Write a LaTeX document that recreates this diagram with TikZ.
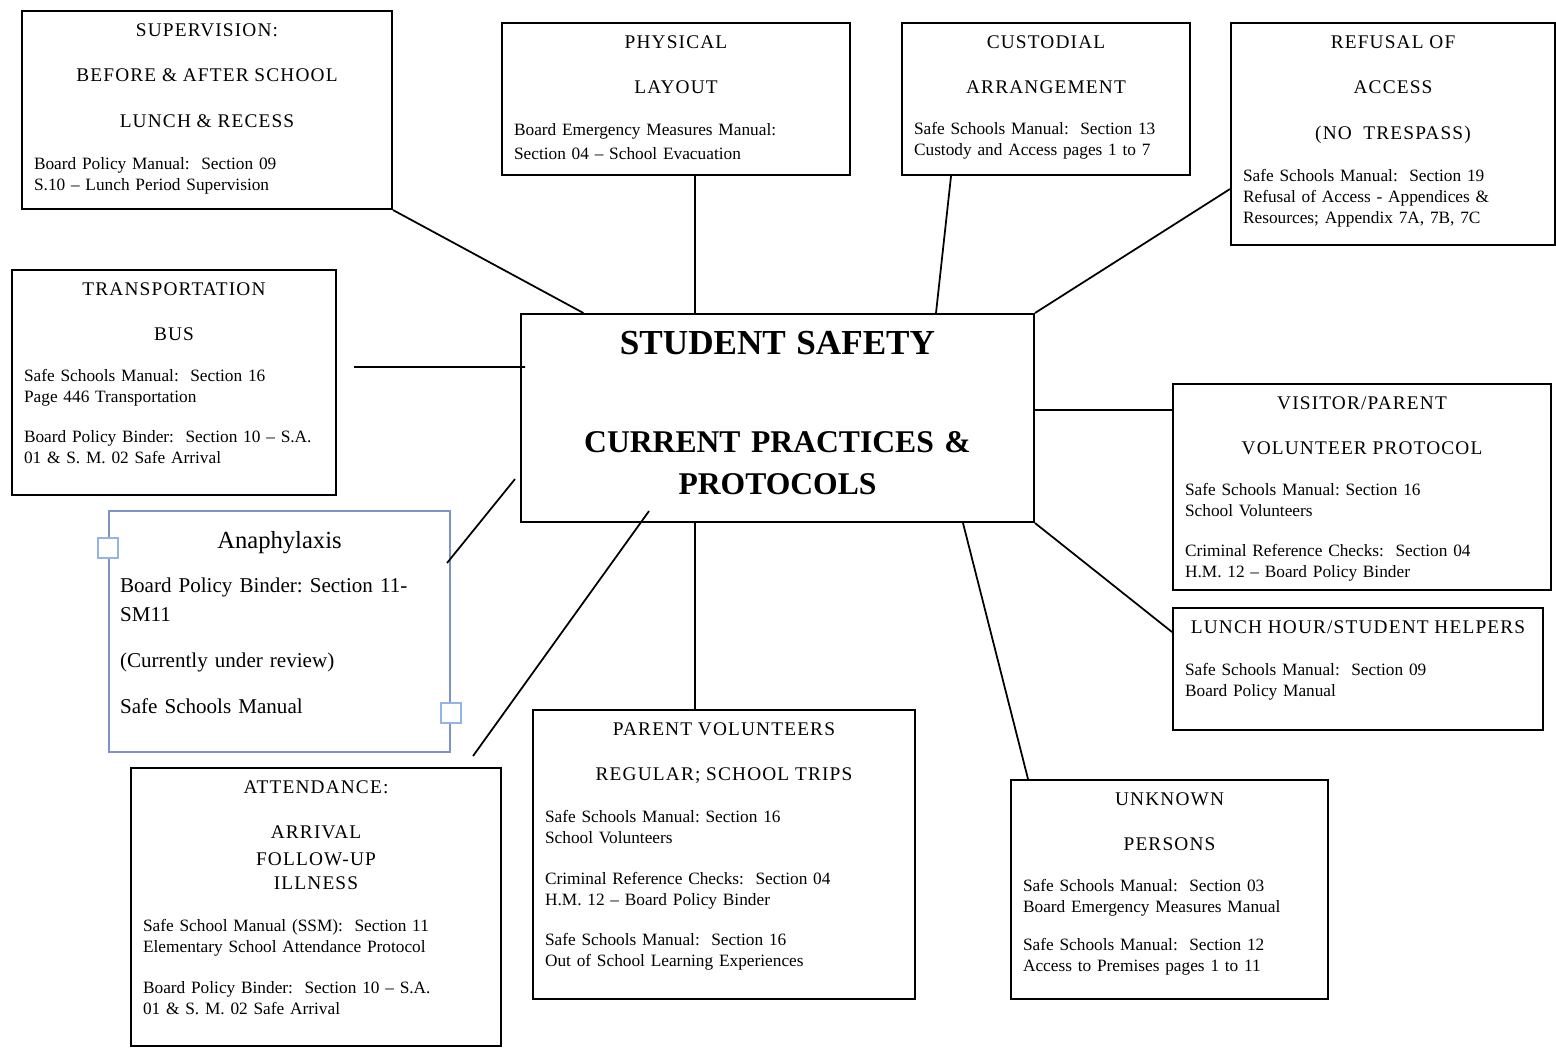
\documentclass[tikz,border=0pt]{standalone}
\usepackage{fontspec}
\setmainfont{Liberation Serif}
\newfontfamily\capsfont[LetterSpace=6]{Liberation Serif}
\definecolor{anaphblue}{HTML}{7C95C6}
\definecolor{handleblue}{HTML}{93B4E8}
\frenchspacing
% centred heading line inside a card
\newcommand\hd[1]{\makebox[\linewidth]{\capsfont\fontsize{11}{12}\selectfont #1}}

\begin{document}
\begin{tikzpicture}[x=0.02cm, y=-0.02cm,
  card/.style={draw, line width=1.2pt, anchor=north west, inner xsep=0.24cm, inner ysep=0pt,
    text height=0.5cm, align=left, font=\fontsize{9.85}{12}\selectfont},
  link/.style={line width=1pt},
  handle/.style={draw=handleblue, line width=1.3pt, fill=white, minimum size=0.4cm, inner sep=0pt}]
\useasboundingbox (0,0) rectangle (1556,1051);

% outer cards
\node[card, text width=6.92cm, text depth=3.46cm] (sup) at (21,10) {%
\hd{SUPERVISION:}\\[14pt]
\hd{BEFORE \& AFTER SCHOOL}\\[14pt]
\hd{LUNCH \& RECESS}\\[12pt]
Board Policy Manual:\ \ Section 09\\
S.10 – Lunch Period Supervision};
\node[card, text width=6.48cm, text depth=2.54cm] (phys) at (501,22) {%
\hd{PHYSICAL}\\[14pt]
\hd{LAYOUT}\\[12pt]
Board Emergency Measures Manual:\\[1.6pt]
Section 04 – School Evacuation};
\node[card, text width=5.28cm, text depth=2.54cm] (cust) at (901,22) {%
\hd{CUSTODIAL}\\[14pt]
\hd{ARRANGEMENT}\\[11pt]
Safe Schools Manual:\ \ Section 13\\
Custody and Access pages 1 to 7};
\node[card, text width=6cm, text depth=3.94cm] (refusal) at (1230,22) {%
\hd{REFUSAL OF}\\[14pt]
\hd{ACCESS}\\[14pt]
\hd{(NO\ \ TRESPASS)}\\[12pt]
Safe Schools Manual:\ \ Section 19\\
Refusal of Access - Appendices \&\\
Resources; Appendix 7A, 7B, 7C};
\node[card, text width=6cm, text depth=4cm] (trans) at (11,269) {%
\hd{TRANSPORTATION}\\[14pt]
\hd{BUS}\\[11pt]
Safe Schools Manual:\ \ Section 16\\
Page 446 Transportation\\[11pt]
Board Policy Binder:\ \ Section 10 – S.A.\\
01 \& S. M. 02 Safe Arrival};
\node[card, draw=anaphblue, inner xsep=0.22cm, text width=6.38cm, text height=0.74cm, text depth=4.08cm,
  font=\fontsize{12}{16.4}\selectfont] (anaph) at (108,510) {%
\makebox[\linewidth]{\fontsize{14}{16}\selectfont Anaphylaxis}\\[9.1pt]
Board Policy Binder: Section 11-\\
SM11\\[9.7pt]
(Currently under review)\\[9.7pt]
Safe Schools Manual};
\node[handle] (hdla) at ([shift={(0,38)}]anaph.north west) {};
\node[handle] (hdlb) at ([shift={(0,-40)}]anaph.south east) {};
\node[card, text width=7.08cm, text depth=3.62cm] (visitor) at (1172,383) {%
\hd{VISITOR/PARENT}\\[14pt]
\hd{VOLUNTEER PROTOCOL}\\[11pt]
Safe Schools Manual: Section 16\\
School Volunteers\\[11pt]
Criminal Reference Checks:\ \ Section 04\\
H.M. 12 – Board Policy Binder};
\node[card, text width=6.92cm, text depth=1.94cm] (lunch) at (1172,607) {%
\hd{LUNCH HOUR/STUDENT HELPERS}\\[12pt]
Safe Schools Manual:\ \ Section 09\\
Board Policy Manual};
\node[card, text width=7.16cm, text depth=5.28cm] (parent) at (532,709) {%
\hd{PARENT VOLUNTEERS}\\[14pt]
\hd{REGULAR; SCHOOL TRIPS}\\[12pt]
Safe Schools Manual: Section 16\\
School Volunteers\\[11pt]
Criminal Reference Checks:\ \ Section 04\\
H.M. 12 – Board Policy Binder\\[11pt]
Safe Schools Manual:\ \ Section 16\\
Out of School Learning Experiences};
\node[card, text width=5.86cm, text depth=3.88cm] (unknown) at (1010,779) {%
\hd{UNKNOWN}\\[14pt]
\hd{PERSONS}\\[11pt]
Safe Schools Manual:\ \ Section 03\\
Board Emergency Measures Manual\\[10pt]
Safe Schools Manual:\ \ Section 12\\
Access to Premises pages 1 to 11};
\node[card, text width=6.92cm, text depth=5.06cm] (att) at (130,767) {%
\hd{ATTENDANCE:}\\[14pt]
\hd{ARRIVAL}\\[3.3pt]
\hd{FOLLOW-UP}\\[1.6pt]
\hd{ILLNESS}\\[12pt]
Safe School Manual (SSM):\ \ Section 11\\
Elementary School Attendance Protocol\\[11pt]
Board Policy Binder:\ \ Section 10 – S.A.\\
01 \& S. M. 02 Safe Arrival};

% centre
\node[card, text width=9.78cm, text height=0.8cm, text depth=3.36cm, align=center,
  font=\bfseries\fontsize{18}{23.8}\selectfont] (central) at (520,313) {%
{\fontsize{20}{24}\selectfont STUDENT SAFETY}\\[32.3pt]
CURRENT PRACTICES \&\\
PROTOCOLS};

% spokes
\draw[link] (sup) -- (central);
\draw[link] ([shift={(19,0)}]phys.south) -- ([shift={(-82.5,0)}]central.north);
\draw[link] ([shift={(-95,0)}]cust.south) -- ([shift={(158.5,0)}]central.north);
\draw[link] ([shift={(0,55)}]refusal.west) -- (central.north east);
\draw[link] ([shift={(17,-15.5)}]trans.east) -- ([shift={(5,-51)}]central.west);
\draw[link] ([shift={(-4,53)}]anaph.north east) -- ([shift={(-5,-44)}]central.south west);
\draw[link] ([shift={(-29,-11)}]att.north east) -- ([shift={(129,-12)}]central.south west);
\draw[link] ([shift={(-82.5,0)}]central.south) -- ([shift={(-29,0)}]parent.north);
\draw[link] ([shift={(185.5,0)}]central.south) -- ([shift={(18,0)}]unknown.north west);
\draw[link] ([shift={(0,-8)}]central.east) -- ([shift={(0,-77)}]visitor.west);
\draw[link] (central.south east) -- ([shift={(0,25)}]lunch.north west);
\end{tikzpicture}
\end{document}
